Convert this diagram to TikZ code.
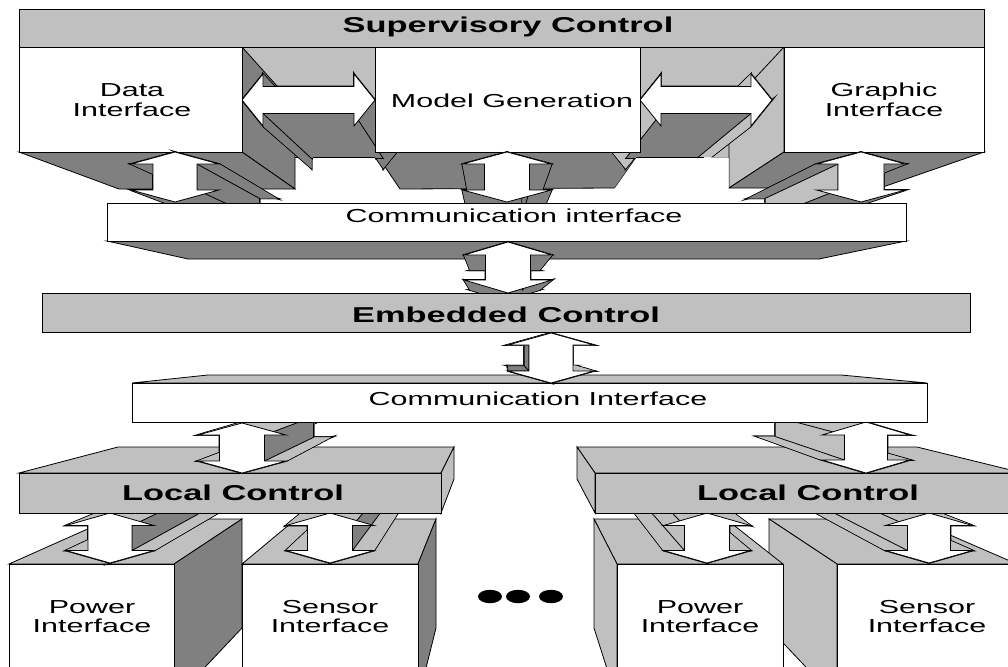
\documentclass[tikz,border=0pt]{standalone}
\usepackage{fontspec}
\setmainfont{Liberation Sans}
\usepackage{graphicx}
\usetikzlibrary{calc,shapes.geometric}
\definecolor{lt}{RGB}{192,192,192}
\definecolor{dk}{RGB}{128,128,128}
\newcommand{\bt}[1]{\scalebox{1.6}[1]{\fontsize{21.5}{24}\selectfont\bfseries #1}}
\newcommand{\rt}[1]{\scalebox{1.62}[1]{\fontsize{18.8}{22}\selectfont #1}}
% vertical double arrow: cx, ytop, ybot, head half width, shaft half width, head length
\newcommand{\vpts}[6]{%
 \path (#1,#2) coordinate (a1)
  (#1+#4,#2+#6) coordinate (a2)
  (#1+#5,#2+#6) coordinate (a3)
  (#1+#5,#3-#6) coordinate (a4)
  (#1+#4,#3-#6) coordinate (a5)
  (#1,#3) coordinate (a6)
  (#1-#4,#3-#6) coordinate (a7)
  (#1-#5,#3-#6) coordinate (a8)
  (#1-#5,#2+#6) coordinate (a9)
  (#1-#4,#2+#6) coordinate (a10);}
% horizontal double arrow: xleft, xright, cy, head half height, shaft half height, head length
\newcommand{\hpts}[6]{%
 \path (#1,#3) coordinate (a1)
  (#1+#6,#3-#4) coordinate (a2)
  (#1+#6,#3-#5) coordinate (a3)
  (#2-#6,#3-#5) coordinate (a4)
  (#2-#6,#3-#4) coordinate (a5)
  (#2,#3) coordinate (a6)
  (#2-#6,#3+#4) coordinate (a7)
  (#2-#6,#3+#5) coordinate (a8)
  (#1+#6,#3+#5) coordinate (a9)
  (#1+#6,#3+#4) coordinate (a10);}
% extrude arrow a1..a10 toward vanishing point #1 by factor #2
\newcommand{\exarrow}[4]{%
 \foreach \ii in {1,...,10}{\coordinate (b\ii) at ($(#1)!#2!(a\ii)$);}
 \foreach \pa/\pb in {1/2,2/3,3/4,4/5,5/6,6/7,7/8,8/9,9/10,10/1}{%
   \draw[line width=1.7pt] (a\pa)--(a\pb)--(b\pb)--(b\pa)--cycle;}
 \draw[line width=1.7pt] (b1)--(b2)--(b3)--(b4)--(b5)--(b6)--(b7)--(b8)--(b9)--(b10)--cycle;
 \foreach \pa/\pb in {1/2,2/3,3/4,4/5,5/6,6/7,7/8,8/9,9/10,10/1}{%
   \fill[#3] (a\pa)--(a\pb)--(b\pb)--(b\pa)--cycle;}
 \fill[#3] (b1)--(b2)--(b3)--(b4)--(b5)--(b6)--(b7)--(b8)--(b9)--(b10)--cycle;
 \foreach \pa/\pb/\cl in {#4}{%
   \filldraw[fill=\cl,line width=0.8pt] (a\pa)--(a\pb)--(b\pb)--(b\pa)--cycle;}
 \filldraw[fill=white,line width=0.8pt] (a1)--(a2)--(a3)--(a4)--(a5)--(a6)--(a7)--(a8)--(a9)--(a10)--cycle;}
\begin{document}
\begin{tikzpicture}[x=1pt,y=-1pt,
 face/.style={draw=black,line width=0.8pt},
 lbl/.style={inner sep=0pt,anchor=base},
 dot/.style={ellipse,fill=black,minimum width=24pt,minimum height=13.4pt,inner sep=0pt}]
\useasboundingbox (0,0) rectangle (1008,666);
\clip (0,0) rectangle (1008,666);
\fill[white] (0,0) rectangle (1008,666);
\coordinate (VPt) at (493,327);
\coordinate (VPb) at (505,345);
% ---------- top level ----------
\filldraw[face,fill=lt] (242,47) rectangle (375,157);
\filldraw[face,fill=lt] (640,47) rectangle (784,157);
\filldraw[face,fill=dk] (242,47)--(295,106)--(295,189)--(242,152)--cycle;
\filldraw[face,fill=dk] (19,152)--(242,152)--(295,189)--(119,189)--cycle;
\filldraw[face,fill=dk] (375,152)--(640,152)--(615,188)--(400,189)--cycle;
\filldraw[face,fill=lt] (784,47)--(729,106)--(729,188)--(784,152)--cycle;
\filldraw[face,fill=dk] (784,152)--(984,152)--(880,188)--(729,188)--cycle;
\hpts{242}{375}{100}{26}{13.5}{21}\exarrow{VPt}{0.789}{dk}{8/9/dk}
\fill[white] (313,157.4) rectangle (374.6,202);
\draw[face] (313,157)--(375,157);
\hpts{640}{772}{100}{26}{13.5}{21}\exarrow{VPt}{0.789}{lt}{8/9/dk}
\fill[white] (636.6,157.4)--(728.6,157.4)--(728.6,202)--(605,202)--(615.4,187.6)--cycle;
\draw[face] (636,157)--(704,157);
\filldraw[face,fill=white] (19,47) rectangle (242,152);
\filldraw[face,fill=white] (375,47) rectangle (640,152);
\filldraw[face,fill=white] (784,47) rectangle (984,152);
\filldraw[face,fill=lt] (19,9) rectangle (984,47);
\vpts{175}{152}{202}{44}{22}{12}\exarrow{VPt}{0.789}{dk}{3/4/dk}
\vpts{507}{152}{202}{44.5}{22.5}{12}\exarrow{VPt}{0.789}{dk}{3/4/dk}
\vpts{861}{152}{202}{44.5}{23}{12}\exarrow{VPt}{0.789}{dk}{8/9/lt}
\filldraw[face,fill=dk] (107,241)--(906,241)--(819,259)--(188,259)--cycle;
\filldraw[face,fill=white] (107,203) rectangle (906,241);
\vpts{508}{242}{293}{44}{22.5}{13}\exarrow{VPt}{0.789}{dk}{3/4/dk}
% ---------- bottom level ----------
\filldraw[face,fill=lt] (769,519)--(913,519)--(1017,564)--(837,564)--cycle;
\filldraw[face,fill=lt] (837,564)--(769,519)--(769,628)--(837,700)--cycle;
\filldraw[face,fill=white] (837,564) rectangle (1017,700);
\filldraw[face,fill=lt] (594,519)--(726,519)--(783,564)--(617,564)--cycle;
\filldraw[face,fill=lt] (617,564)--(594,519)--(594,628)--(617,700)--cycle;
\filldraw[face,fill=white] (617,564) rectangle (783,700);
\filldraw[face,fill=lt] (110,519)--(242,519)--(174,564)--(9,564)--cycle;
\filldraw[face,fill=dk] (174,564)--(242,519)--(242,628)--(174,700)--cycle;
\filldraw[face,fill=white] (9,564) rectangle (174,700);
\filldraw[face,fill=lt] (296,519)--(436,519)--(418,564)--(242,564)--cycle;
\filldraw[face,fill=dk] (418,564)--(436,519)--(436,628)--(418,700)--cycle;
\filldraw[face,fill=white] (242,564) rectangle (418,700);
\vpts{110}{513}{563}{44}{22}{12.5}\exarrow{VPb}{0.796}{lt}{3/4/dk}
\vpts{330}{513}{563}{44}{22.5}{12.5}\exarrow{VPb}{0.796}{lt}{3/4/dk}
\vpts{707}{513}{563}{43.5}{22.5}{12.5}\exarrow{VPb}{0.796}{lt}{8/9/lt}
\vpts{929}{513}{563}{43.5}{21.5}{12.5}\exarrow{VPb}{0.796}{lt}{8/9/lt}
\filldraw[face,fill=lt] (118,447)--(454,447)--(441,473)--(19,473)--cycle;
\filldraw[face,fill=lt] (441,473)--(454,447)--(454,479)--(441,513)--cycle;
\filldraw[face,fill=lt] (19,473) rectangle (441,513);
\filldraw[face,fill=lt] (577,447)--(917,447)--(1023,473)--(595,473)--cycle;
\filldraw[face,fill=lt] (595,473)--(577,447)--(577,479)--(595,513)--cycle;
\filldraw[face,fill=lt] (595,473) rectangle (1023,513);
\vpts{242}{423}{473}{44}{22.5}{12}\exarrow{VPb}{0.796}{lt}{3/4/dk}
\vpts{866}{422}{473}{44}{21.5}{13}\exarrow{VPb}{0.796}{lt}{8/9/lt}
\filldraw[face,fill=lt] (208,375)--(841,375)--(927,383)--(132,383)--cycle;
\filldraw[face,fill=white] (132,383) rectangle (927,422);
\vpts{551}{333}{383}{43}{22}{12}\exarrow{VPb}{0.796}{lt}{7/8/dk,8/9/dk}
\filldraw[face,fill=lt] (42,293) rectangle (970,332);
% ---------- texts ----------
\node[lbl] (sup) at (508,32.5) {\bt{Supervisory Control}};
\node[lbl] (di1) at (132,96) {\rt{Data}};
\node[lbl] (di2) at (132,117) {\rt{Interface}};
\node[lbl] (mg) at (512,107) {\rt{Model Generation}};
\node[lbl] (gi1) at (884,97) {\rt{Graphic}};
\node[lbl] (gi2) at (884,117) {\rt{Interface}};
\node[lbl] (ci1) at (514,222) {\rt{Communication interface}};
\node[lbl] (emb) at (506,322) {\bt{Embedded Control}};
\node[lbl] (ci2) at (538,405) {\rt{Communication Interface}};
\node[lbl] (lc1) at (233,500) {\bt{Local Control}};
\node[lbl] (lc2) at (808,500) {\bt{Local Control}};
\node[lbl] (pw1a) at (92,613) {\rt{Power}};
\node[lbl] (pw1b) at (92,632) {\rt{Interface}};
\node[lbl] (sn1a) at (330,613) {\rt{Sensor}};
\node[lbl] (sn1b) at (330,632) {\rt{Interface}};
\node[lbl] (pw2a) at (700,613) {\rt{Power}};
\node[lbl] (pw2b) at (700,632) {\rt{Interface}};
\node[lbl] (sn2a) at (927,613) {\rt{Sensor}};
\node[lbl] (sn2b) at (927,632) {\rt{Interface}};
\node[dot] (d1) at (490,596.5) {};
\node[dot] (d2) at (518,596.5) {};
\node[dot] (d3) at (551,596.5) {};
\end{tikzpicture}
\end{document}
